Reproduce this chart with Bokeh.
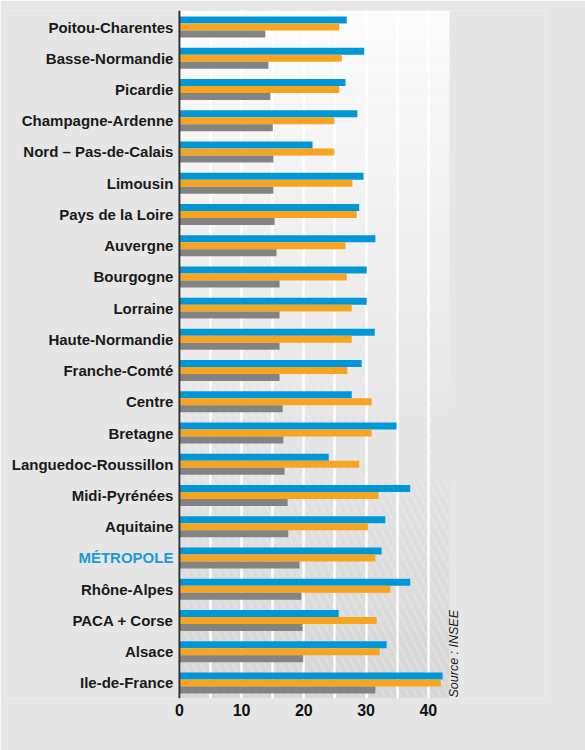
import numpy as np
from bokeh.plotting import figure
from bokeh.models import (ColumnDataSource, Range1d, FixedTicker,
                          Label, BoxAnnotation, Span)
from bokeh.core.properties import value
from bokeh.transform import dodge
from bokeh.embed import file_html
from bokeh.resources import INLINE

# ---- data (top to bottom as in the chart) ----
regions = ["Poitou-Charentes", "Basse-Normandie", "Picardie", "Champagne-Ardenne",
           "Nord – Pas-de-Calais", "Limousin", "Pays de la Loire", "Auvergne",
           "Bourgogne", "Lorraine", "Haute-Normandie", "Franche-Comté", "Centre",
           "Bretagne", "Languedoc-Roussillon", "Midi-Pyrénées", "Aquitaine",
           "MÉTROPOLE", "Rhône-Alpes", "PACA + Corse", "Alsace", "Ile-de-France"]
serie_bleue = [26.9, 29.7, 26.7, 28.6, 21.4, 29.6, 28.9, 31.5, 30.1, 30.1, 31.4,
               29.3, 27.7, 34.9, 24.0, 37.1, 33.1, 32.5, 37.1, 25.6, 33.3, 42.3]
serie_orange = [25.7, 26.1, 25.7, 24.9, 24.9, 27.8, 28.5, 26.7, 26.9, 27.7, 27.7,
                27.0, 30.9, 30.9, 28.9, 32.0, 30.3, 31.5, 33.9, 31.7, 32.2, 42.0]
serie_grise = [13.8, 14.3, 14.6, 15.0, 15.1, 15.1, 15.3, 15.6, 16.1, 16.1, 16.1,
               16.1, 16.6, 16.7, 16.9, 17.4, 17.5, 19.3, 19.6, 19.8, 19.9, 31.5]
x_ticks = [0, 10, 20, 30, 40]
grid_ticks = [0, 5, 10, 15, 20, 25, 30, 35, 40]
highlight = "MÉTROPOLE"
source_text = "Source : INSEE"

BLUE = "#0097d9"
ORANGE = "#f7a520"
GRAY = "#838383"
HL = "#1e9ad6"
LABEL_COLOR = "#1a1a1a"
FONT = "Liberation Sans"
BG = "#e6e6e6"

n = len(regions)
pos = [n - 1 - i for i in range(n)]          # first region at the top
label_colors = [HL if r == highlight else LABEL_COLOR for r in regions]
src = ColumnDataSource(dict(region=regions, pos=pos, bleue=serie_bleue,
                            orange=serie_orange, grise=serie_grise,
                            label_color=label_colors))

# layout geometry (pixels)
W, H = 585, 750
BORDER_L = 4
BORDER_R = 40
X0_PX = 178.9          # pixel of x = 0
PX_PER_UNIT = 6.222
XMAX = 43.4            # right edge of the plotting panel (data)
x_start = -(X0_PX - BORDER_L) / PX_PER_UNIT
x_end = (W - BORDER_R - X0_PX) / PX_PER_UNIT
Y0, Y1 = -0.5, n - 0.47

p = figure(width=W, height=H, x_range=Range1d(x_start, x_end),
           y_range=Range1d(Y0, Y1), output_backend="svg",
           toolbar_location=None, y_axis_location=None,
           min_border_left=BORDER_L, min_border_right=BORDER_R,
           min_border_top=10, min_border_bottom=52)
p.border_fill_color = BG
p.background_fill_color = BG
p.outline_line_color = None

# vertical gradient of the plotting panel, built from thin bands
NB = 44
edges = np.linspace(Y0, Y1, NB + 1)
for k in range(NB):
    t = (k + 0.5) / NB
    gv = int(round(214 + 38 * t))
    col = "#{0:02x}{0:02x}{0:02x}".format(gv)
    p.add_layout(BoxAnnotation(left=0, right=XMAX, bottom=float(edges[k]),
                               top=float(edges[k + 1]), fill_color=col,
                               fill_alpha=1.0, line_color=None, level="image"))

p.add_layout(BoxAnnotation(left=0, right=XMAX, bottom=Y0, top=Y1, fill_alpha=0,
                           line_color=None,
                           hatch_pattern="left_diagonal_line", hatch_color="white",
                           hatch_alpha=0.3, hatch_scale=16, hatch_weight=1,
                           level="underlay"))

h = 0.224
p.hbar(y=dodge("pos", h), right="bleue", left=0, height=h,
       source=src, color=BLUE, line_color=None)
p.hbar(y=dodge("pos", 0), right="orange", left=0, height=h,
       source=src, color=ORANGE, line_color=None)
p.hbar(y=dodge("pos", -h), right="grise", left=0, height=h,
       source=src, color=GRAY, line_color=None)

# category labels, drawn from the data
p.text(x=0, y="pos", text="region", source=src, x_offset=-6,
       text_align="right", text_baseline="middle", text_font=value(FONT),
       text_font_size="15px", text_font_style="bold", text_color="label_color")

# grid
p.ygrid.grid_line_color = None
p.xgrid.ticker = FixedTicker(ticks=grid_ticks)
p.xgrid.grid_line_color = "white"
p.xgrid.grid_line_width = 2.5
p.xgrid.grid_line_alpha = 0.95

# x axis
p.xaxis.ticker = FixedTicker(ticks=x_ticks)
p.xaxis.axis_line_color = None
p.xaxis.major_tick_line_color = None
p.xaxis.minor_tick_line_color = None
p.xaxis.major_tick_out = 0
p.xaxis.major_label_text_font = FONT
p.xaxis.major_label_text_font_size = "16px"
p.xaxis.major_label_text_font_style = "bold"
p.xaxis.major_label_text_color = "#111111"
p.xaxis.major_label_standoff = 5

# vertical axis rule at x = 0
p.add_layout(Span(location=0, dimension="height", line_color="#333333",
                  line_width=2, level="guide"))

p.add_layout(Label(x=XMAX, y=Y0, x_offset=5, y_offset=1, angle=90,
                   angle_units="deg", text=source_text, text_align="left",
                   text_baseline="middle", text_font=FONT, text_font_size="12.5px",
                   text_font_style="italic", text_color=LABEL_COLOR))

open("out.html", "w").write(file_html(p, INLINE))
